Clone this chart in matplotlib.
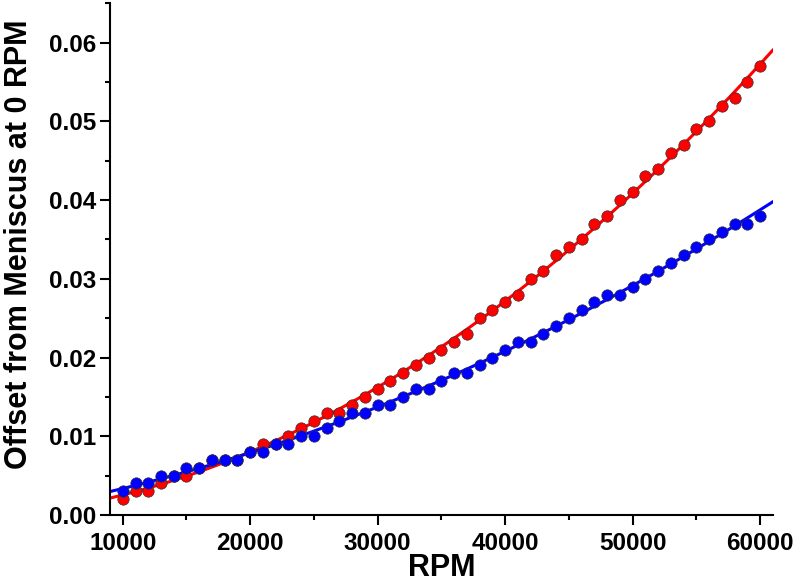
#!/usr/bin/env python3
"""Meniscus offset vs rotor speed, with quadratic fits."""

import numpy as np
import matplotlib
matplotlib.use('Agg')
import matplotlib.pyplot as plt
from matplotlib.ticker import MultipleLocator

rpm = np.arange(10000, 60001, 1000)

offset_red = [0.002, 0.003, 0.003, 0.004, 0.005, 0.005, 0.006, 0.007, 0.007, 0.007,
              0.008, 0.009, 0.009, 0.010, 0.011, 0.012, 0.013, 0.013, 0.014, 0.015,
              0.016, 0.017, 0.018, 0.019, 0.020, 0.021, 0.022, 0.023, 0.025, 0.026,
              0.027, 0.028, 0.030, 0.031, 0.033, 0.034, 0.035, 0.037, 0.038, 0.040,
              0.041, 0.043, 0.044, 0.046, 0.047, 0.049, 0.050, 0.052, 0.053, 0.055,
              0.057]
offset_blue = [0.003, 0.004, 0.004, 0.005, 0.005, 0.006, 0.006, 0.007, 0.007, 0.007,
               0.008, 0.008, 0.009, 0.009, 0.010, 0.010, 0.011, 0.012, 0.013, 0.013,
               0.014, 0.014, 0.015, 0.016, 0.016, 0.017, 0.018, 0.018, 0.019, 0.020,
               0.021, 0.022, 0.022, 0.023, 0.024, 0.025, 0.026, 0.027, 0.028, 0.028,
               0.029, 0.030, 0.031, 0.032, 0.033, 0.034, 0.035, 0.036, 0.037, 0.037,
               0.038]

plt.rcParams['font.family'] = ['Liberation Sans', 'DejaVu Sans']
plt.rcParams['font.weight'] = 'bold'

fig = plt.figure(figsize=(7.95, 5.87), dpi=100)
ax = fig.add_axes([0.1384, 0.1227, 0.8336, 0.8717])

x_fit = np.linspace(9000, 61000, 300)
for vals, col in [(offset_red, '#ff0000'), (offset_blue, '#0000ff')]:
    coef = np.polyfit(rpm, vals, 2)  # quadratic fit drawn through the points
    ax.plot(x_fit, np.polyval(coef, x_fit), color=col, lw=2.2, zorder=2)
    ax.plot(rpm, vals, 'o', color=col, markersize=8.2, markeredgecolor='#333333',
            markeredgewidth=0.5, zorder=3)

ax.set_xlim(9000, 61000)
ax.set_ylim(0, 0.065)
ax.xaxis.set_major_locator(MultipleLocator(10000))
ax.xaxis.set_minor_locator(MultipleLocator(5000))
ax.yaxis.set_major_locator(MultipleLocator(0.01))
ax.yaxis.set_minor_locator(MultipleLocator(0.005))
ax.yaxis.set_major_formatter(matplotlib.ticker.FormatStrFormatter('%.2f'))

for s in ['top', 'right']:
    ax.spines[s].set_visible(False)
for s in ['left', 'bottom']:
    ax.spines[s].set_linewidth(1.5)

ax.tick_params(which='major', direction='out', length=7, width=1.5,
               labelsize=17.5, pad=3)
ax.tick_params(which='minor', direction='out', length=3.6, width=1.5)
ax.tick_params(axis='x', which='major', pad=5)

ax.set_xlabel('RPM', fontsize=22, fontweight='bold', labelpad=-1)
ax.set_ylabel('Offset from Meniscus at 0 RPM', fontsize=22, fontweight='bold')
ax.yaxis.set_label_coords(-0.115, 0.53)

fig.savefig('out.png', dpi=100)
plt.close()
